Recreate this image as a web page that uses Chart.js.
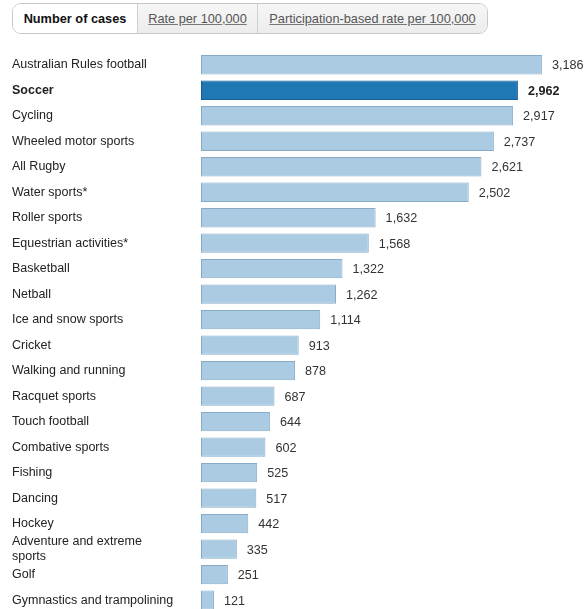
<!DOCTYPE html>
<html>
<head>
<meta charset="utf-8">
<script src="https://cdn.jsdelivr.net/npm/chart.js@4/dist/chart.umd.min.js"></script>
<style>
  html, body { margin: 0; padding: 0; background: #fff; overflow: hidden; width: 585px; height: 609px; }
  body { font-family: "Liberation Sans", Arial, Helvetica, sans-serif; position: relative; }
  .tabs { position: absolute; left: 12px; top: 3px; height: 31px; display: flex; border: 1px solid #c8c8c8; border-radius: 9px; overflow: hidden; box-sizing: border-box; }
  .tab { height: 100%; display: flex; align-items: center; justify-content: center; font-size: 12.75px; color: #555; background: linear-gradient(#f6f6f6, #ececec); border-left: 1px solid #d0d0d0; box-sizing: border-box; }
  .tab:first-child { border-left: none; background: #fff; color: #111; font-weight: bold; }
  .tab u { text-decoration: underline; text-decoration-color: #777; }
  #wrap { position: absolute; left: 0; top: 40px; width: 585px; height: 580px; }
</style>
</head>
<body>
<div class="tabs">
  <div class="tab" style="width:124px">Number of cases</div>
  <div class="tab" style="width:120px"><u>Rate per 100,000</u></div>
  <div class="tab" style="width:230px"><u>Participation-based rate per 100,000</u></div>
</div>
<div id="wrap"><canvas id="c"></canvas></div>
<script>
const categories = [
  "Australian Rules football",
  "Soccer",
  "Cycling",
  "Wheeled motor sports",
  "All Rugby",
  "Water sports*",
  "Roller sports",
  "Equestrian activities*",
  "Basketball",
  "Netball",
  "Ice and snow sports",
  "Cricket",
  "Walking and running",
  "Racquet sports",
  "Touch football",
  "Combative sports",
  "Fishing",
  "Dancing",
  "Hockey",
  ["Adventure and extreme", "sports"],
  "Golf",
  "Gymnastics and trampolining"
];
const cases = [3186, 2962, 2917, 2737, 2621, 2502, 1632, 1568, 1322, 1262, 1114, 913, 878, 687, 644, 602, 525, 517, 442, 335, 251, 121];
const highlightIndex = 1;

const FONT = '"Liberation Sans", Arial, Helvetica, sans-serif';

const valueLabels = {
  id: 'valueLabels',
  afterDatasetsDraw(chart) {
    const ctx = chart.ctx;
    const meta = chart.getDatasetMeta(0);
    ctx.save();
    ctx.textBaseline = 'middle';
    ctx.textAlign = 'left';
    meta.data.forEach((bar, i) => {
      const v = chart.data.datasets[0].data[i];
      const bold = i === highlightIndex;
      ctx.font = (bold ? 'bold ' : '') + '12.6px ' + FONT;
      ctx.fillStyle = bold ? '#222' : '#333';
      ctx.fillText(v.toLocaleString('en-US'), bar.x + 10, bar.y + 1);
    });
    ctx.restore();
  }
};

new Chart(document.getElementById('c'), {
  type: 'bar',
  data: {
    labels: categories,
    datasets: [{
      data: cases,
      backgroundColor: cases.map((_, i) => i === highlightIndex ? '#1f77b4' : '#abcbe3'),
      borderColor: cases.map((_, i) => i === highlightIndex ? '#175e92' : '#86abc8'),
      borderWidth: 1,
      borderSkipped: false,
      barPercentage: 0.76,
      categoryPercentage: 1.0
    }]
  },
  options: {
    indexAxis: 'y',
    responsive: true,
    maintainAspectRatio: false,
    animation: false,
    layout: { padding: { left: 12, right: 9.5, top: 12.0, bottom: 4.0 } },
    plugins: { legend: { display: false }, tooltip: { enabled: false } },
    scales: {
      x: {
        display: false,
        min: 0,
        max: 3500
      },
      y: {
        grid: { display: false, drawTicks: false },
        border: { display: false },
        afterFit(scale) { scale.width = 189; },
        ticks: {
          crossAlign: 'far',
          padding: 0,
          autoSkip: false,
          color: '#222',
          font: (c) => ({ family: FONT, size: 12.5, weight: c.index === highlightIndex ? 'bold' : 'normal', lineHeight: 1.15 })
        }
      }
    }
  },
  plugins: [valueLabels]
});
</script>
</body>
</html>
